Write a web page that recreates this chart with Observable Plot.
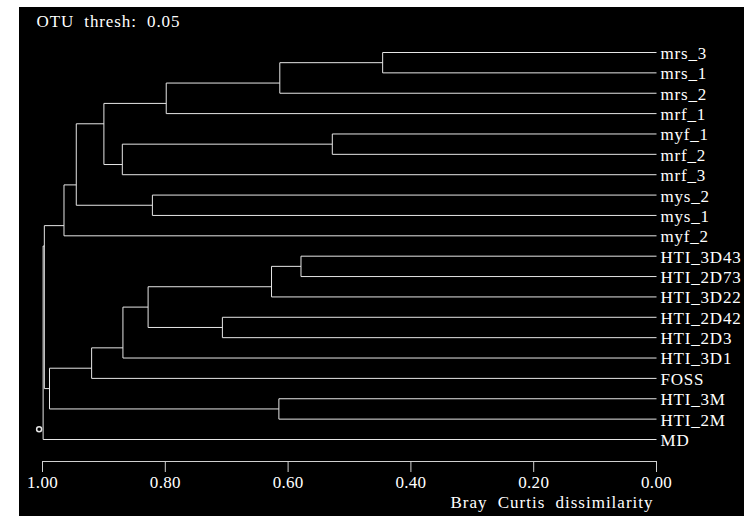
<!DOCTYPE html>
<html><head><meta charset="utf-8">
<script src="https://cdn.jsdelivr.net/npm/d3@7"></script>
<script src="https://cdn.jsdelivr.net/npm/@observablehq/plot@0.6"></script>
<style>
html,body{margin:0;padding:0;background:#fff;}
#chart{position:absolute;left:19px;top:7px;}
.leaf-labels text{letter-spacing:0.8px;}
.tick-labels text{letter-spacing:0.3px;}
.x-title text{letter-spacing:1px;word-spacing:5px;}
.otu-title text{letter-spacing:0.9px;word-spacing:5px;}
</style></head><body><div id="chart"></div>
<script>
// Leaves, top to bottom
const leafLabels = ["mrs_3","mrs_1","mrs_2","mrf_1","myf_1","mrf_2","mrf_3","mys_2","mys_1","myf_2",
  "HTI_3D43","HTI_2D73","HTI_3D22","HTI_2D42","HTI_2D3","HTI_3D1","FOSS","HTI_3M","HTI_2M","MD"];
// Merge steps (hclust style: negative = leaf number, positive = earlier merge number)
const mergeLeft  = [-1, 1, 2, -5, 4, 3, -8, 6, 8, -11, 10, -14, 11, 13, 14, -18, 15, 9, 18];
const mergeRight = [-2, -3, -4, -6, -7, 5, -9, 7, -10, -12, -13, -15, 12, -16, -17, -19, 16, 17, -20];
const mergeHeight = [0.446, 0.6135, 0.7985, 0.528, 0.870, 0.900, 0.821, 0.945, 0.965,
  0.579, 0.627, 0.707, 0.828, 0.869, 0.920, 0.615, 0.9886, 0.997, 0.999];
const xTicks = [1.0, 0.8, 0.6, 0.4, 0.2, 0.0];
const otuThreshold = 0.05;
const xLabel = "Bray Curtis dissimilarity";

// Build nodes
const leaves = leafLabels.map((name, i) => ({x: 0, y: i, min: i, max: i, name}));
const merges = [];
const get = (k) => k < 0 ? leaves[-k - 1] : merges[k - 1];
const segs = [];
mergeHeight.forEach((h, k) => {
  const a = get(mergeLeft[k]), b = get(mergeRight[k]);
  const node = {x: h, y: (a.max + b.min) / 2, min: a.min, max: b.max};
  merges.push(node);
  segs.push({x1: h, x2: h, y1: a.y, y2: b.y});
  segs.push({x1: a.x, x2: h, y1: a.y, y2: a.y});
  segs.push({x1: b.x, x2: h, y1: b.y, y2: b.y});
});
const root = merges[merges.length - 1];
const axisRow = leafLabels.length - 1 + 1.08;

const font = "'Liberation Serif', 'Times New Roman', serif";
const plot = Plot.plot({
  width: 725, height: 509,
  marginLeft: 23, marginRight: 88, marginTop: 45, marginBottom: 55,
  style: {background: "#000", color: "#fff", fontFamily: font, fontSize: "17px"},
  x: {domain: [1, 0], range: [23, 637]},
  y: {domain: [0, axisRow], range: [45, 454], axis: null},
  marks: [
    Plot.link(segs, {x1: "x1", y1: "y1", x2: "x2", y2: "y2", stroke: "#e6e6e6", strokeWidth: 1}),
    Plot.text(leaves, {x: 0, y: "y", text: "name", textAnchor: "start", dx: 4, dy: 1,
      fill: "#fff", fontSize: 17, className: "leaf-labels"}),
    Plot.dot([root], {x: "x", y: "y", r: 2.5, dx: -4, stroke: "#e6e6e6", fill: "none"}),
    Plot.ruleY([axisRow], {x1: xTicks[0], x2: xTicks[xTicks.length - 1], stroke: "#d0d0d0"}),
    Plot.axisX({ticks: xTicks, tickFormat: d3.format(".2f"), tickSize: 11, tickPadding: 3,
      label: null, stroke: "#d0d0d0", fontSize: 17, className: "tick-labels"}),
    Plot.text([xLabel], {frameAnchor: "bottom-right", textAnchor: "end", lineAnchor: "top",
      dx: -3, dy: 34, fill: "#fff", fontSize: 17, className: "x-title"}),
    Plot.text([`OTU thresh: ${otuThreshold.toFixed(2)}`], {frameAnchor: "top-left", textAnchor: "start",
      lineAnchor: "top", dx: -6, dy: -38, fill: "#fff", fontSize: 17, className: "otu-title"})
  ]
});
document.getElementById("chart").append(plot);
</script></body></html>
